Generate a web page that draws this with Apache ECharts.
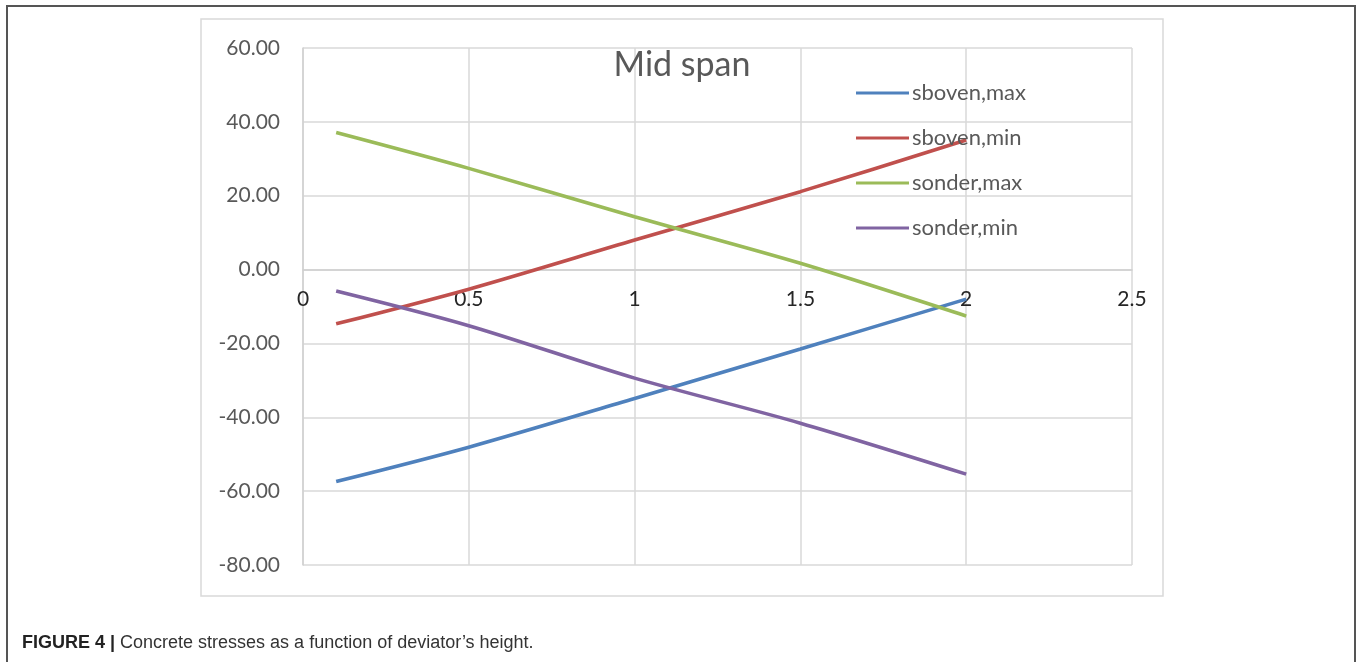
<!DOCTYPE html>
<html>
<head>
<meta charset="utf-8">
<script src="https://cdn.jsdelivr.net/npm/echarts@6/dist/echarts.min.js"></script>
<style>
html,body{margin:0;padding:0;background:#fff;}
#chart{width:1357px;height:662px;}
</style>
</head>
<body>
<div id="chart"></div>
<script>
const xValues = [0.1, 0.5, 1.0, 1.5, 2.0];
const seriesNames = ['sboven,max', 'sboven,min', 'sonder,max', 'sonder,min'];
const sbovenMax = [-57.4, -48.1, -34.9, -21.5, -8.0];
const sbovenMin = [-14.7, -5.3, 8.0, 21.1, 35.1];
const sonderMax = [37.1, 27.4, 14.3, 1.7, -12.6];
const sonderMin = [-5.8, -15.2, -29.4, -41.6, -55.4];
const titleText = 'Mid span';
const captionBold = 'FIGURE 4 |';
const captionText = ' Concrete stresses as a function of deviator\u2019s height.';

const colors = ['#4F81BD', '#C0504D', '#9BBB59', '#8064A2'];
const allValues = [sbovenMax, sbovenMin, sonderMax, sonderMin];

const yMin = -80, yMax = 60, yStep = 20;
const gridTop = 48, gridHeight = 517;
// move the x axis (line + labels) up to the y = 0 level
const xAxisOffset = -((0 - yMin) / (yMax - yMin)) * gridHeight;

function pairs(vals) { return xValues.map((x, i) => [x, vals[i]]); }

const chart = echarts.init(document.getElementById('chart'), null, {renderer: 'canvas'});
const option = {
  backgroundColor: '#ffffff',
  animation: false,
  title: {
    text: titleText,
    left: 677,
    top: 43,
    textAlign: 'center',
    textStyle: {fontFamily: 'Lato', fontSize: 34, fontWeight: 'normal', color: '#595959'}
  },
  legend: {
    orient: 'vertical',
    left: 851,
    top: 77,
    itemWidth: 53,
    itemHeight: 3,
    itemGap: 23,
    icon: 'rect',
    data: seriesNames,
    textStyle: {fontFamily: 'Lato', fontSize: 22, color: '#595959', lineHeight: 22, padding: [0, 0, 0, -2]}
  },
  grid: {left: 303, top: gridTop, width: 829, height: gridHeight, containLabel: false},
  xAxis: {
    type: 'value',
    min: 0, max: 2.5, interval: 0.5,
    position: 'bottom',
    offset: xAxisOffset,
    axisLine: {show: true, onZero: false, lineStyle: {color: '#d0d0d0', width: 1.5}},
    axisTick: {show: false},
    axisLabel: {fontFamily: 'Lato', fontSize: 21, color: '#262626', margin: 19},
    splitLine: {show: true, lineStyle: {color: '#d9d9d9', width: 1.5}}
  },
  yAxis: {
    type: 'value',
    min: yMin, max: yMax, interval: yStep,
    axisLine: {show: true, onZero: false, lineStyle: {color: '#d0d0d0', width: 1.5}},
    axisTick: {show: false},
    axisLabel: {fontFamily: 'Lato', fontSize: 21, color: '#595959', margin: 23,
      formatter: v => v.toFixed(2)},
    splitLine: {show: true, lineStyle: {color: '#d9d9d9', width: 1.5}}
  },
  graphic: [
    {type: 'rect', z: -10, shape: {x: 7, y: 6, width: 1348, height: 700},
      style: {fill: 'none', stroke: '#555555', lineWidth: 2}},
    {type: 'rect', z: -10, shape: {x: 201, y: 19, width: 962, height: 577},
      style: {fill: '#ffffff', stroke: '#d9d9d9', lineWidth: 1.5}},
    {type: 'text', left: 22, top: 634,
      style: {
        text: '{b|' + captionBold + '}{n|' + captionText + '}',
        rich: {
          b: {fontFamily: 'Liberation Sans Narrow, Liberation Sans, Arial', fontWeight: 'bold', fontSize: 18, fill: '#222222'},
          n: {fontFamily: 'Liberation Sans Narrow, Liberation Sans, Arial', fontSize: 18, fill: '#333333'}
        }
      }}
  ],
  series: allValues.map((vals, i) => ({
    name: seriesNames[i],
    type: 'line',
    data: pairs(vals),
    smooth: 0.3,
    symbol: 'none',
    lineStyle: {width: 3.6, color: colors[i]},
    itemStyle: {color: colors[i]}
  }))
};
chart.setOption(option);
</script>
</body>
</html>
